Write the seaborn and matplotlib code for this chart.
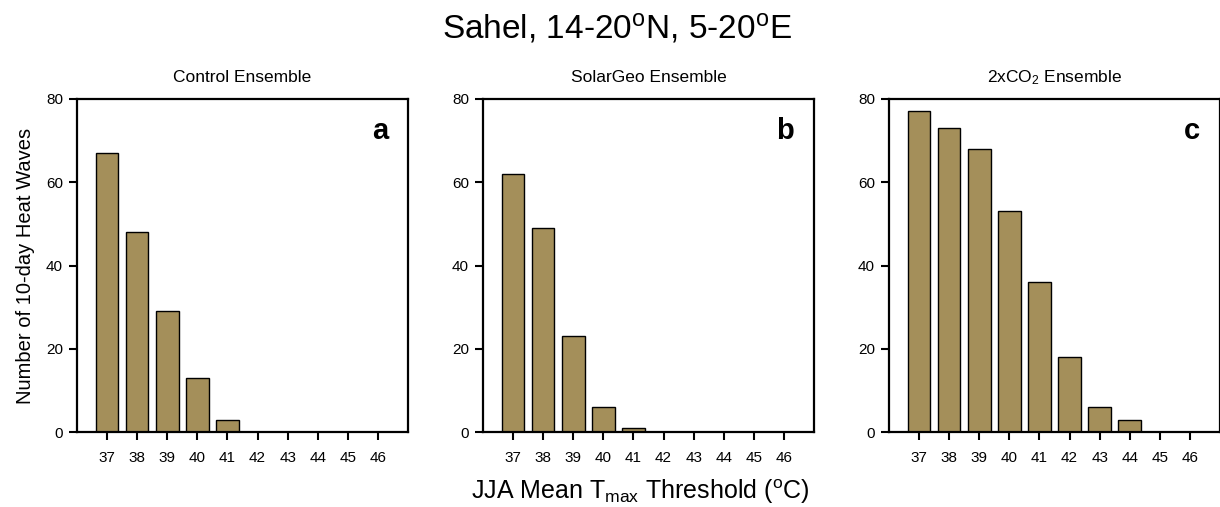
import matplotlib
matplotlib.use("Agg")
import matplotlib.pyplot as plt
import seaborn as sns
import pandas as pd

thresholds = [37, 38, 39, 40, 41, 42, 43, 44, 45, 46]
control = [67, 48, 29, 13, 3, 0, 0, 0, 0, 0]
solargeo = [62, 49, 23, 6, 1, 0, 0, 0, 0, 0]
co2x2 = [77, 73, 68, 53, 36, 18, 6, 3, 0, 0]
panel_titles = ["Control Ensemble", "SolarGeo Ensemble", r"2xCO$_2$ Ensemble"]
panel_letters = ["a", "b", "c"]
yticks = [0, 20, 40, 60, 80]

sns.set_theme(style="ticks")
plt.rcParams['font.family'] = ['Liberation Sans', 'DejaVu Sans']
plt.rcParams['mathtext.fontset'] = 'custom'
plt.rcParams['mathtext.rm'] = 'Liberation Sans'
plt.rcParams['mathtext.it'] = 'Liberation Sans'
plt.rcParams['mathtext.bf'] = 'Liberation Sans:bold'
plt.rcParams['text.color'] = 'black'
plt.rcParams['axes.labelcolor'] = 'black'
plt.rcParams['xtick.color'] = 'black'
plt.rcParams['ytick.color'] = 'black'

bar_color = "#A48F5A"

fig = plt.figure(figsize=(12.2, 5.07), dpi=100)
W, H = 1220, 507
lefts = [77, 483, 889]
aw, ah = 331, 333
bottom_px = 432

series = [control, solargeo, co2x2]
for i, (vals, title, letter) in enumerate(zip(series, panel_titles, panel_letters)):
    ax = fig.add_axes([lefts[i] / W, (H - bottom_px) / H, aw / W, ah / H])
    df = pd.DataFrame({"threshold": thresholds, "count": vals})
    sns.barplot(data=df, x="threshold", y="count", native_scale=True,
                color=bar_color, saturation=1, width=0.75,
                edgecolor="black", linewidth=1.0, ax=ax)
    ax.set_xlim(36, 47)
    ax.set_ylim(0, 80)
    ax.set_xticks(thresholds)
    ax.set_xticklabels([str(t) for t in thresholds])
    ax.set_yticks(yticks)
    ax.tick_params(axis="both", direction="out", length=6, width=1.5,
                   labelsize=11, pad=8, color="black", labelcolor="black")
    ax.tick_params(axis="x", top=False)
    ax.tick_params(axis="y", right=False, pad=4)
    for sp in ax.spines.values():
        sp.set_visible(True)
        sp.set_linewidth(1.6)
        sp.set_color("black")
    ax.set_xlabel("")
    ax.set_ylabel("")
    ax.set_title(title, fontsize=12.5, pad=12, color="black")
    ax.text(0.94, 0.905, letter, transform=ax.transAxes, fontsize=21,
            fontweight="bold", ha="right", va="center", color="black")
    if i == 0:
        ax.set_ylabel("Number of 10-day Heat Waves", fontsize=14.5,
                      labelpad=8, color="black")

fig.text(617 / W, 1 - 28 / H, r"Sahel, 14-20$^{\mathrm{o}}$N, 5-20$^{\mathrm{o}}$E",
         fontsize=24, ha="center", va="center", color="black")
fig.text(640 / W, 1 - 492 / H,
         r"JJA Mean T$_{\mathrm{max}}$ Threshold ($^{\mathrm{o}}$C)",
         fontsize=18, ha="center", va="center", color="black")

fig.savefig("out.png", dpi=100)
